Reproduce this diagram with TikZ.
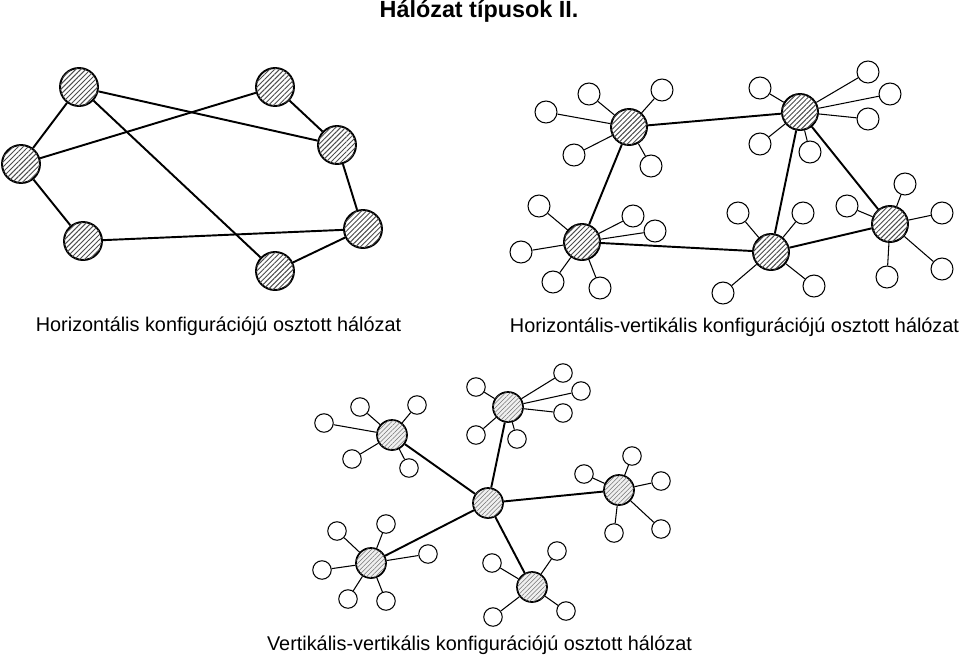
\documentclass[tikz,border=0pt]{standalone}
\usepackage{fontspec}
\setmainfont{Liberation Sans}
\usetikzlibrary{patterns.meta}

\begin{document}
\begin{tikzpicture}[x=0.02cm, y=-0.02cm,
        bighub/.style={circle, draw=black, line width=1.1pt, minimum size=0.76cm, inner sep=0pt, fill=white,
            postaction={pattern={Lines[angle=45, distance=2pt, line width=0.55pt]}, pattern color=black!70}},
        midhub/.style={bighub, minimum size=0.72cm},
        smallhub/.style={circle, draw=black, line width=1pt, minimum size=0.6cm, inner sep=0pt, fill=gray!12,
            postaction={pattern={Lines[angle=45, distance=1.8pt, line width=0.3pt]}, pattern color=black!55}},
        leaf/.style={circle, draw=black, line width=0.6pt, fill=white, minimum size=0.44cm, inner sep=0pt},
        smallleaf/.style={leaf, minimum size=0.37cm},
        link/.style={line width=1.1pt, draw=black},
        spoke/.style={line width=0.6pt, draw=black},
        caption/.style={font=\fontsize{11.3}{13}\selectfont, inner sep=0pt, anchor=center}
    ]
        \useasboundingbox (0,0) rectangle (960,657);

        % ----------------------------------------------------
        % TITLE AND CAPTIONS
        % ----------------------------------------------------
        \node[caption, font=\fontsize{13.3}{15}\selectfont\bfseries] (title) at (479,11) {Hálózat típusok II.};
        \node[caption] (caphor) at (218.5,326) {Horizontális konfigurációjú osztott hálózat};
        \node[caption] (caphv) at (734.5,327) {Horizontális-vertikális konfigurációjú osztott hálózat};
        \node[caption] (capvv) at (479.5,645) {Vertikális-vertikális konfigurációjú osztott hálózat};

        % ----------------------------------------------------
        % HORIZONTAL (Top Left)
        % ----------------------------------------------------
        \node[bighub] (na) at (79,87) {};
        \node[bighub] (nb) at (275,87) {};
        \node[bighub] (nc) at (337,145) {};
        \node[bighub] (nd) at (21,164) {};
        \node[bighub] (ne) at (363,229) {};
        \node[bighub] (nf) at (83,241) {};
        \node[bighub] (ng) at (275,271) {};

        \draw[link] (na) -- (nd);
        \draw[link] (na) -- (nc);
        \draw[link] (na) -- (ng);
        \draw[link] (nb) -- (nd);
        \draw[link] (nb) -- (nc);
        \draw[link] (nc) -- (ne);
        \draw[link] (ne) -- (nf);
        \draw[link] (ne) -- (ng);
        \draw[link] (nd) -- (nf);

        % ----------------------------------------------------
        % HORIZONTAL-VERTICAL (Top Right)
        % ----------------------------------------------------
        \node[midhub] (hv1) at (629,127) {};
        \node[midhub] (hv2) at (800,112) {};
        \node[midhub] (hv3) at (582,242) {};
        \node[midhub] (hv4) at (771,252) {};
        \node[midhub] (hv5) at (890,224) {};

        \draw[link] (hv1) -- (hv2);
        \draw[link] (hv1) -- (hv3);
        \draw[link] (hv3) -- (hv4);
        \draw[link] (hv2) -- (hv4);
        \draw[link] (hv2) -- (hv5);
        \draw[link] (hv4) -- (hv5);

        % Leaves of hv1
        \node[leaf] (hv1a) at (546,112) {}; \draw[spoke] (hv1) -- (hv1a);
        \node[leaf] (hv1b) at (589,94) {};  \draw[spoke] (hv1) -- (hv1b);
        \node[leaf] (hv1c) at (662,90) {};  \draw[spoke] (hv1) -- (hv1c);
        \node[leaf] (hv1d) at (574,155) {}; \draw[spoke] (hv1) -- (hv1d);
        \node[leaf] (hv1e) at (651,166) {}; \draw[spoke] (hv1) -- (hv1e);

        % Leaves of hv2
        \node[leaf] (hv2a) at (760,88) {};  \draw[spoke] (hv2) -- (hv2a);
        \node[leaf] (hv2b) at (868,72) {};  \draw[spoke] (hv2) -- (hv2b);
        \node[leaf] (hv2c) at (890,94) {};  \draw[spoke] (hv2) -- (hv2c);
        \node[leaf] (hv2d) at (868,119) {}; \draw[spoke] (hv2) -- (hv2d);
        \node[leaf] (hv2e) at (760,144) {}; \draw[spoke] (hv2) -- (hv2e);
        \node[leaf] (hv2f) at (810,152) {}; \draw[spoke] (hv2) -- (hv2f);

        % Leaves of hv3
        \node[leaf] (hv3a) at (539,206) {}; \draw[spoke] (hv3) -- (hv3a);
        \node[leaf] (hv3b) at (633,216) {}; \draw[spoke] (hv3) -- (hv3b);
        \node[leaf] (hv3c) at (655,231) {}; \draw[spoke] (hv3) -- (hv3c);
        \node[leaf] (hv3d) at (521,252) {}; \draw[spoke] (hv3) -- (hv3d);
        \node[leaf] (hv3e) at (553,282) {}; \draw[spoke] (hv3) -- (hv3e);
        \node[leaf] (hv3f) at (600,288) {}; \draw[spoke] (hv3) -- (hv3f);

        % Leaves of hv4
        \node[leaf] (hv4a) at (738,213) {}; \draw[spoke] (hv4) -- (hv4a);
        \node[leaf] (hv4b) at (803,213) {}; \draw[spoke] (hv4) -- (hv4b);
        \node[leaf] (hv4c) at (723,293) {}; \draw[spoke] (hv4) -- (hv4c);
        \node[leaf] (hv4d) at (814,286) {}; \draw[spoke] (hv4) -- (hv4d);

        % Leaves of hv5
        \node[leaf] (hv5a) at (847,206) {}; \draw[spoke] (hv5) -- (hv5a);
        \node[leaf] (hv5b) at (905,184) {}; \draw[spoke] (hv5) -- (hv5b);
        \node[leaf] (hv5c) at (942,213) {}; \draw[spoke] (hv5) -- (hv5c);
        \node[leaf] (hv5d) at (887,277) {}; \draw[spoke] (hv5) -- (hv5d);
        \node[leaf] (hv5e) at (942,269) {}; \draw[spoke] (hv5) -- (hv5e);

        % ----------------------------------------------------
        % VERTICAL-VERTICAL (Bottom Center)
        % ----------------------------------------------------
        \node[smallhub] (vv0) at (488,503) {};
        \node[smallhub] (vv1) at (392,435) {};
        \node[smallhub] (vv2) at (508,407) {};
        \node[smallhub] (vv3) at (619,490) {};
        \node[smallhub] (vv4) at (371,563) {};
        \node[smallhub] (vv5) at (532,587) {};

        \draw[link] (vv0) -- (vv1);
        \draw[link] (vv0) -- (vv2);
        \draw[link] (vv0) -- (vv3);
        \draw[link] (vv0) -- (vv4);
        \draw[link] (vv0) -- (vv5);

        % Leaves of vv1
        \node[smallleaf] (vv1a) at (324,423) {}; \draw[spoke] (vv1) -- (vv1a);
        \node[smallleaf] (vv1b) at (360,407) {}; \draw[spoke] (vv1) -- (vv1b);
        \node[smallleaf] (vv1c) at (417,405) {}; \draw[spoke] (vv1) -- (vv1c);
        \node[smallleaf] (vv1d) at (352,459) {}; \draw[spoke] (vv1) -- (vv1d);
        \node[smallleaf] (vv1e) at (409,468) {}; \draw[spoke] (vv1) -- (vv1e);

        % Leaves of vv2
        \node[smallleaf] (vv2a) at (476,387) {}; \draw[spoke] (vv2) -- (vv2a);
        \node[smallleaf] (vv2b) at (563,373) {}; \draw[spoke] (vv2) -- (vv2b);
        \node[smallleaf] (vv2c) at (581,391) {}; \draw[spoke] (vv2) -- (vv2c);
        \node[smallleaf] (vv2d) at (563,413) {}; \draw[spoke] (vv2) -- (vv2d);
        \node[smallleaf] (vv2e) at (476,435) {}; \draw[spoke] (vv2) -- (vv2e);
        \node[smallleaf] (vv2f) at (517,439) {}; \draw[spoke] (vv2) -- (vv2f);

        % Leaves of vv3
        \node[smallleaf] (vv3a) at (584,474) {}; \draw[spoke] (vv3) -- (vv3a);
        \node[smallleaf] (vv3b) at (632,456) {}; \draw[spoke] (vv3) -- (vv3b);
        \node[smallleaf] (vv3c) at (661,481) {}; \draw[spoke] (vv3) -- (vv3c);
        \node[smallleaf] (vv3d) at (614,533) {}; \draw[spoke] (vv3) -- (vv3d);
        \node[smallleaf] (vv3e) at (661,529) {}; \draw[spoke] (vv3) -- (vv3e);

        % Leaves of vv4
        \node[smallleaf] (vv4a) at (337,531) {}; \draw[spoke] (vv4) -- (vv4a);
        \node[smallleaf] (vv4b) at (386,524) {}; \draw[spoke] (vv4) -- (vv4b);
        \node[smallleaf] (vv4c) at (428,554) {}; \draw[spoke] (vv4) -- (vv4c);
        \node[smallleaf] (vv4d) at (322,570) {}; \draw[spoke] (vv4) -- (vv4d);
        \node[smallleaf] (vv4e) at (348,599) {}; \draw[spoke] (vv4) -- (vv4e);
        \node[smallleaf] (vv4f) at (386,601) {}; \draw[spoke] (vv4) -- (vv4f);

        % Leaves of vv5
        \node[smallleaf] (vv5a) at (492,563) {}; \draw[spoke] (vv5) -- (vv5a);
        \node[smallleaf] (vv5b) at (557,551) {}; \draw[spoke] (vv5) -- (vv5b);
        \node[smallleaf] (vv5c) at (493,617) {}; \draw[spoke] (vv5) -- (vv5c);
        \node[smallleaf] (vv5d) at (566,611) {}; \draw[spoke] (vv5) -- (vv5d);

    \end{tikzpicture}
\end{document}
